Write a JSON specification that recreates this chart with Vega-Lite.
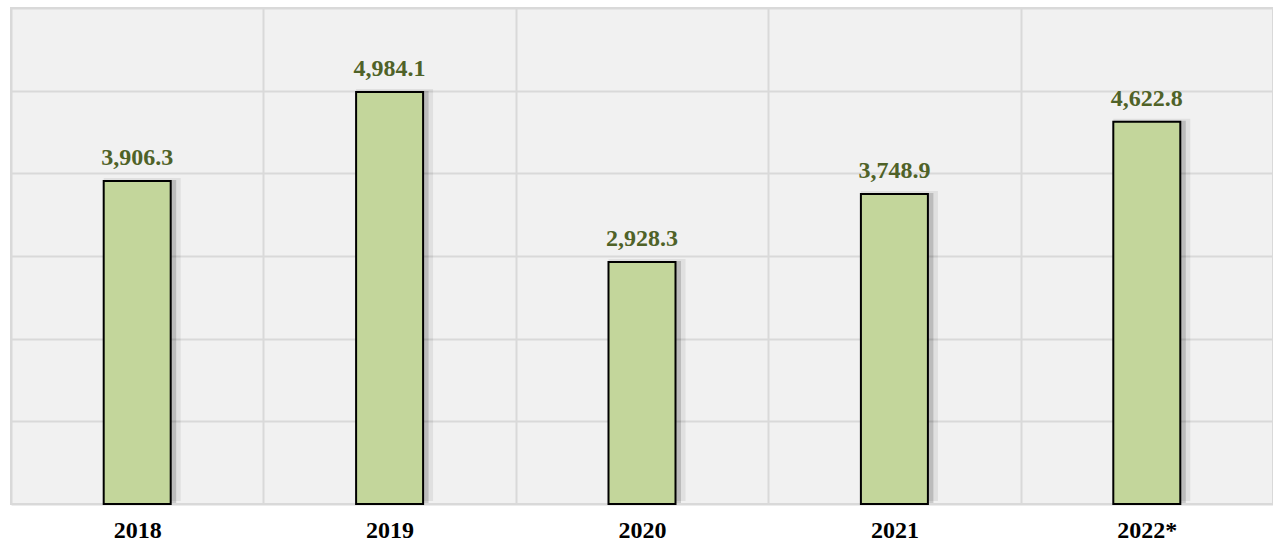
{
  "$schema": "https://vega.github.io/schema/vega-lite/v6.json",
  "width": 1262,
  "height": 496,
  "autosize": {"type": "none"},
  "padding": {"left": 11, "top": 8, "right": 0, "bottom": 39},
  "background": "white",
  "config": {"view": {"fill": "#f1f1f1", "stroke": "#d9d9d9", "strokeWidth": 2}},
  "data": {"values": [
    {"year": "2018", "value": 3906.3},
    {"year": "2019", "value": 4984.1},
    {"year": "2020", "value": 2928.3},
    {"year": "2021", "value": 3748.9},
    {"year": "2022*", "value": 4622.8}
  ]},
  "encoding": {
    "x": {"field": "year", "type": "nominal", "sort": null,
      "scale": {"paddingInner": 0, "paddingOuter": 0},
      "axis": {"title": null, "labelAngle": 0, "labelFont": "Liberation Serif", "labelFontSize": 24, "labelFontWeight": "bold", "labelColor": "black", "labelBaseline": "bottom", "labelPadding": 38, "ticks": false, "domain": false, "grid": true, "gridColor": "#d9d9d9", "gridWidth": 2, "tickBand": "extent"}},
    "y": {"field": "value", "type": "quantitative",
      "scale": {"domain": [0, 6000], "nice": false},
      "axis": {"title": null, "labels": false, "ticks": false, "domain": false, "grid": true, "gridColor": "#d9d9d9", "gridWidth": 2, "values": [0, 1000, 2000, 3000, 4000, 5000, 6000]}}
  },
  "layer": [
    {"mark": {"type": "bar", "size": 77, "xOffset": 5, "yOffset": -3, "fill": "#000000", "opacity": 0.07}},
    {"mark": {"type": "bar", "size": 72, "xOffset": 3, "yOffset": -1, "fill": "#000000", "opacity": 0.16}},
    {"mark": {"type": "bar", "size": 67, "fill": "#C3D69B", "stroke": "#000000", "strokeWidth": 2}},
    {"mark": {"type": "text", "font": "Liberation Serif", "fontSize": 24, "fontWeight": "bold", "color": "#4F6228", "baseline": "alphabetic", "dy": -16},
      "encoding": {"text": {"field": "value", "type": "quantitative", "format": ",.1f"}}}
  ]
}
